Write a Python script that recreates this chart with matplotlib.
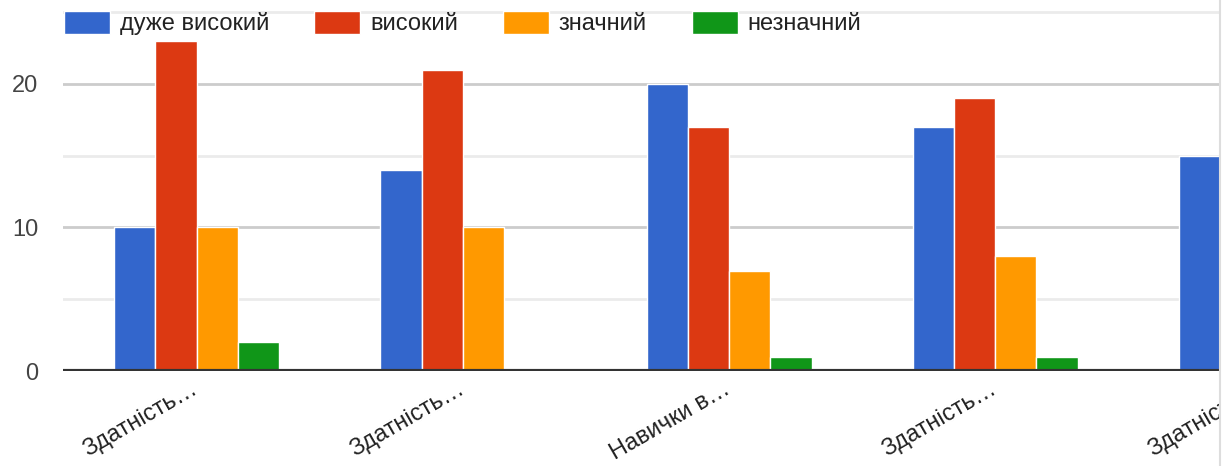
import numpy as np
import matplotlib.pyplot as plt
from matplotlib.lines import Line2D
from matplotlib.patches import Rectangle
from matplotlib.transforms import ScaledTranslation

plt.rcParams['font.family'] = ['Liberation Sans', 'DejaVu Sans']

categories = ["Здатність…", "Здатність…", "Навички в…", "Здатність…", "Здатність…"]
series_names = ["дуже високий", "високий", "значний", "незначний"]
very_high = [10, 14, 20, 17, 15]
high = [23, 21, 17, 19, 21]
significant = [10, 10, 7, 8, 9]
minor = [2, 0, 1, 1, 1]
colors = ["#3366cc", "#dc3912", "#ff9900", "#109618"]

series = [very_high, high, significant, minor]

W, H = 1232, 466
fig = plt.figure(figsize=(W / 100, H / 100), dpi=100)
# axes run past the right edge; the page cut at x=1220 is masked below
ax_right = 1400
ax = fig.add_axes([63 / W, 95 / H, (ax_right - 63) / W, 371 / H])

x = np.arange(len(categories))
w = 0.155
for i, (vals, name, c) in enumerate(zip(series, series_names, colors)):
    ax.bar(x + (i - 1.5) * w, vals, w, color=c, edgecolor="white",
           linewidth=1, label=name, zorder=3)

# category labels drawn as texts so they can be nudged
ax.set_xticks(x)
ax.set_xticklabels([])
lab_tr = ax.get_xaxis_transform() + ScaledTranslation(-6 / 100, -7 / 100, fig.dpi_scale_trans)
for xi, cat in zip(x, categories):
    ax.text(xi, 0, cat, transform=lab_tr, rotation=30, ha="right", va="top",
            rotation_mode="anchor", fontsize=17, color="#222222", clip_on=False)

px_per_unit = 266.2
ax.set_xlim(-0.502, -0.502 + (ax_right - 63) / px_per_unit)
ax.set_ylim(0, 25.85)
ax.set_yticks([0, 10, 20])
ax.set_yticks([5, 15, 25], minor=True)
ax.grid(axis="y", which="major", color="#cccccc", linewidth=2, zorder=0)
ax.grid(axis="y", which="minor", color="#ebebeb", linewidth=2, zorder=0)
ax.axhline(0, color="#333333", linewidth=3, zorder=4)
for s in ax.spines.values():
    s.set_visible(False)
ax.tick_params(axis="y", which="both", length=0, pad=18, labelsize=17, labelcolor="#444444")
ax.tick_params(axis="x", length=0)

leg = ax.legend(loc="upper left", bbox_to_anchor=(59 / W, 1 - 6 / H),
                bbox_transform=fig.transFigure, ncol=4, frameon=False, fontsize=17,
                handlelength=1.95, handleheight=1.12, handletextpad=0.42,
                columnspacing=1.9, borderaxespad=0, borderpad=0.2)
leg.set_zorder(5)
for t in leg.get_texts():
    t.set_color("#222222")

fig.add_artist(Rectangle((1220 / W, 0), 1, 1, transform=fig.transFigure,
                         facecolor="white", edgecolor="none", zorder=10))
fig.add_artist(Line2D([1220 / W, 1220 / W], [0, 1], transform=fig.transFigure,
                      color="#dddddd", linewidth=1.5, zorder=11))

fig.savefig("out.png", dpi=100)
